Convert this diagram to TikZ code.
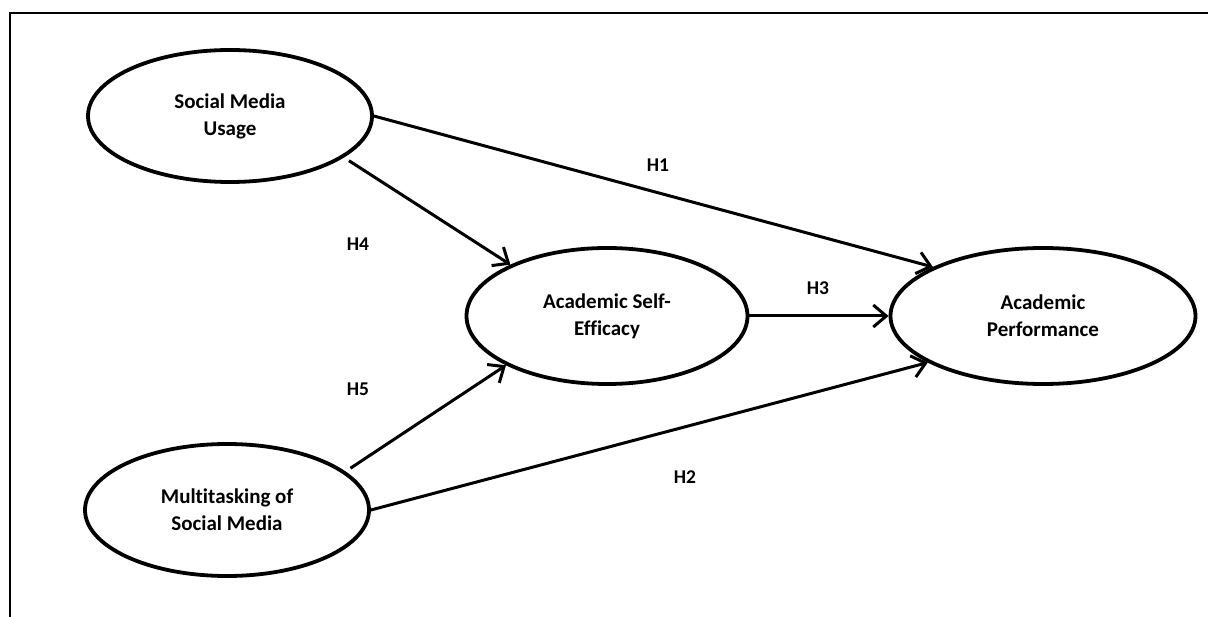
\documentclass[tikz,border=0pt]{standalone}
\usepackage{fontspec}
\setmainfont[Ligatures=NoCommon]{Carlito}
\usetikzlibrary{arrows.meta,shapes.geometric}

\begin{document}
\begin{tikzpicture}[
  x=1pt, y=-1pt,
  font=\bfseries\fontsize{21}{27}\selectfont,
  construct/.style={ellipse, draw=black, line width=3.8pt, fill=white, inner sep=0pt, align=center},
  path/.style={-{Straight Barb[length=13pt, width=22pt]}, line width=3pt},
  hyp/.style={font=\bfseries\fontsize{19.5}{21}\selectfont},
  frame/.style={line width=2pt},
]
\useasboundingbox (0,0) rectangle (1208,617);

% ======================= frame (top and left only) =======================
\draw[frame] (1208,13) -- (10,13) -- (10,617);

% ======================= constructs =======================
\node[construct, minimum width=284pt, minimum height=132pt] (smu) at (230,116) {Social Media\\ Usage};
\node[construct, minimum width=284pt, minimum height=132pt] (msm) at (227,510) {Multitasking of\\ Social Media};
\node[construct, minimum width=281pt, minimum height=136pt] (ase) at (607,316) {Academic Self-\\ Efficacy};
\node[construct, minimum width=305pt, minimum height=136pt] (ap)  at (1043,316) {Academic\\ Performance};

% ======================= hypothesised paths =======================
\draw[path] (smu.east) -- (ap.156);
\draw[path] (msm.east) -- (ap.202);
\draw[path] (ase.east) -- (ap.west);
\draw[path, shorten <=6pt] (smu.340) -- (ase.152);
\draw[path, shorten <=6pt] (msm.18) -- (ase.206);

% labels
\node[hyp] (h1) at (658,165) {H1};
\node[hyp] (h2) at (685,477) {H2};
\node[hyp] (h3) at (818,288) {H3};
\node[hyp] (h4) at (358,244) {H4};
\node[hyp] (h5) at (358,389) {H5};

\end{tikzpicture}
\end{document}
